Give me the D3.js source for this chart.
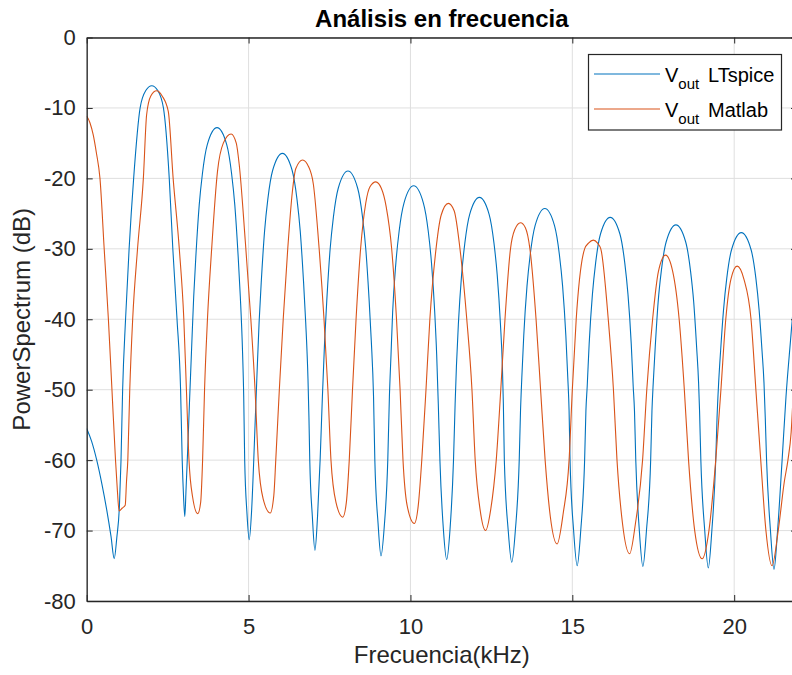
<!DOCTYPE html>
<html>
<head>
<meta charset="utf-8">
<script src="https://cdn.jsdelivr.net/npm/d3@7/dist/d3.min.js"></script>
<style>
  html, body { margin: 0; padding: 0; background: #ffffff; }
  svg { display: block; }
  text { font-family: "Liberation Sans", Arial, Helvetica, sans-serif; }
</style>
</head>
<body>
<svg id="chart" width="792" height="675"></svg>
<script>
// Axis ticks
const xTicks = [0, 5, 10, 15, 20];
const yTicks = [-80, -70, -60, -50, -40, -30, -20, -10, 0];

// Power spectrum from the LTspice simulation: [frequency kHz, dB]
const ltspice = [
  [0,-55.5],[0.15,-57.3],[0.31,-60],[0.47,-63.4],[0.62,-67.1],[0.75,-70.8],[0.85,-74.0],[0.93,-71.0],
  [1.01,-66.6],[1.06,-60],[1.11,-50],[1.2,-40],[1.31,-30],[1.45,-20],[1.65,-10],[1.83,-7.5],[2.01,-6.85],
  [2.19,-7.5],[2.37,-10],[2.55,-20],[2.66,-30],[2.79,-40],[2.9,-50],[2.95,-60],[2.99,-65],[3.03,-68],
  [3.07,-64],[3.12,-58.5],[3.175,-51.8],[3.235,-44.8],[3.305,-36.8],[3.375,-30.8],[3.475,-23.8],[3.575,-19.3],
  [3.725,-15.2],[4.025,-12.8],[4.325,-15.2],[4.475,-19.3],[4.575,-23.8],[4.675,-30.8],[4.745,-36.8],[4.815,-44.8],
  [4.85,-51],[4.88,-60],[4.95,-67.5],[5.02,-71.3],
  [5.09,-67.5],[5.16,-60],[5.2,-55],[5.255,-48.45],[5.325,-40.45],[5.395,-34.45],[5.495,-27.45],[5.595,-22.95],
  [5.745,-18.85],[6.045,-16.45],[6.345,-18.85],[6.495,-22.95],[6.595,-27.45],[6.695,-34.45],[6.765,-40.45],
  [6.835,-48.45],[6.865,-54],[6.89,-60],[6.97,-68],[7.05,-72.8],
  [7.13,-68],[7.21,-60],[7.28,-51],[7.35,-43],[7.42,-37],[7.52,-30],[7.62,-25.5],[7.77,-21.4],[8.07,-18.96],
  [8.37,-21.4],[8.52,-25.5],[8.62,-30],[8.72,-37],[8.79,-43],[8.86,-51],[8.9,-60],[9.0,-69],[9.09,-73.6],
  [9.19,-69.5],[9.3,-60],[9.35,-51],[9.4,-45],[9.45,-39],[9.55,-32],[9.65,-27.5],[9.8,-23.5],[10.1,-21.05],
  [10.4,-23.5],[10.55,-27.5],[10.65,-32],[10.75,-39],[10.81,-45],[10.86,-52],[10.91,-60],[11.02,-70],[11.12,-74.1],
  [11.22,-70],[11.33,-60],[11.38,-52],[11.42,-46.7],[11.48,-40.7],[11.58,-33.7],[11.68,-29.2],[11.83,-25.1],
  [12.13,-22.7],[12.43,-25.1],[12.58,-29.2],[12.68,-33.7],[12.78,-40.7],[12.84,-46.7],[12.87,-52],[12.9,-60],
  [13.02,-70],[13.13,-74.5],
  [13.24,-70],[13.36,-60],[13.4,-53],[13.44,-48.3],[13.5,-42.3],[13.6,-35.3],[13.7,-30.8],[13.85,-26.7],
  [14.15,-24.27],[14.45,-26.7],[14.6,-30.8],[14.7,-35.3],[14.8,-42.3],[14.86,-48.3],[14.9,-53],[14.93,-60],
  [15.04,-70],[15.15,-75.0],
  [15.26,-70],[15.38,-60],[15.42,-53],[15.46,-49.5],[15.52,-43.5],[15.62,-36.5],[15.72,-32],[15.87,-27.9],
  [16.17,-25.54],[16.47,-27.9],[16.62,-32],[16.72,-36.5],[16.82,-43.5],[16.88,-49.5],[16.92,-53],[16.96,-60],
  [17.07,-70],[17.18,-75.1],
  [17.29,-70],[17.42,-60],[17.46,-53],[17.5,-49],[17.56,-44],[17.65,-37.6],[17.75,-33.1],[17.9,-29],
  [18.2,-26.6],[18.5,-29],[18.65,-33.1],[18.75,-37.6],[18.84,-44],[18.9,-49],[18.93,-53],[18.97,-60],
  [19.09,-70],[19.2,-75.3],
  [19.31,-70],[19.43,-60],[19.47,-54],[19.52,-49],[19.58,-44.5],[19.67,-38.7],[19.77,-34.2],[19.92,-30.1],
  [20.22,-27.7],[20.52,-30.1],[20.67,-34.2],[20.77,-38.7],[20.86,-44.5],[20.92,-49],[20.96,-54],[21.0,-60],
  [21.12,-70],[21.23,-75.5],
  [21.34,-70],[21.48,-60],[21.6,-51],[21.74,-43],[21.85,-37],[21.94,-33]
];

// Power spectrum computed in Matlab: [frequency kHz, dB]
const matlab = [
  [0,-11.15],[0.1,-12.1],[0.2,-13.8],[0.3,-16.4],[0.41,-20],[0.54,-30],[0.67,-40],[0.78,-50],[0.89,-60],
  [0.95,-64.5],[1.0,-67.2],[1.1,-66.8],[1.19,-66.4],[1.23,-63],[1.27,-60],[1.33,-50],[1.42,-40],[1.57,-30],
  [1.75,-20],[1.85,-11],[1.98,-8.3],[2.16,-7.56],[2.33,-8.3],[2.52,-10.5],[2.67,-20],[2.86,-30],[3.0,-40],
  [3.08,-50],[3.16,-60],[3.27,-65.2],[3.43,-67.6],[3.52,-66],[3.58,-60],
  [3.64,-50],[3.73,-40],[3.86,-30],[4.04,-19],[4.22,-15],[4.46,-13.7],[4.62,-15],[4.71,-18],[4.9,-29],
  [5.07,-40],[5.2,-50],[5.3,-60],[5.45,-65.5],[5.67,-67.5],[5.78,-65],[5.84,-60],
  [5.95,-50],[6.07,-40],[6.21,-30],[6.35,-22],[6.46,-18.6],[6.67,-17.4],[6.85,-18.3],[7.0,-20.8],[7.18,-30],
  [7.33,-40],[7.45,-50],[7.545,-60],[7.7,-66],[7.91,-68.1],[8.02,-66],[8.11,-60],
  [8.21,-50],[8.32,-40],[8.46,-30],[8.62,-23.5],[8.75,-21.2],[8.93,-20.5],[9.1,-21.4],[9.25,-24],[9.42,-30],
  [9.57,-40],[9.68,-50],[9.77,-60],[9.9,-66.5],[10.12,-69],[10.24,-66.5],
  [10.35,-60],[10.48,-50],[10.6,-40],[10.79,-30],[10.95,-25.2],[11.17,-23.55],[11.35,-24.6],[11.53,-30],
  [11.74,-40],[11.9,-50],[12.0,-60],[12.15,-67],[12.32,-70],[12.48,-67],
  [12.65,-60],[12.79,-50],[12.92,-40],[13.09,-30],[13.22,-27.3],[13.4,-26.3],[13.55,-27],[13.69,-30],
  [13.88,-40],[14.02,-50],[14.16,-60],[14.32,-68],[14.53,-71.9],[14.72,-67.5],
  [14.9,-60],[15.0,-50],[15.12,-40],[15.38,-30],[15.5,-29.2],[15.65,-28.77],[15.78,-29.2],[15.88,-30],
  [16.11,-40],[16.27,-50],[16.38,-60],[16.55,-69],[16.77,-73.3],[16.95,-69],
  [17.17,-60],[17.3,-50],[17.48,-40],[17.66,-33.2],[17.88,-30.9],[18.1,-33.2],[18.3,-40],[18.46,-50],
  [18.59,-60],[18.78,-70],[19.01,-74.0],[19.22,-70],
  [19.43,-60],[19.59,-50],[19.74,-40],[19.9,-34.3],[20.09,-32.46],[20.3,-34.3],[20.52,-40],[20.67,-50],
  [20.82,-60],[20.98,-70],[21.17,-75.0],[21.36,-70],[21.55,-63],[21.66,-60],[21.76,-56],[21.85,-48],[21.94,-40]
];

const seriesNames = ["LTspice", "Matlab"];
const seriesColors = ["#0072BD", "#D95319"];

const W = 792, H = 675;
const plot = { left: 86.7, right: 797, top: 37.5, bottom: 601 };
const ink = "#262626";

const svg = d3.select("#chart");

const x = d3.scaleLinear().domain([0, 21.94]).range([plot.left, plot.right]);
const y = d3.scaleLinear().domain([-80, 0]).range([plot.bottom, plot.top]);

svg.append("rect").attr("width", W).attr("height", H).attr("fill", "#ffffff");

// grid
const grid = svg.append("g").attr("stroke", "#dfdfdf").attr("stroke-width", 1);
grid.selectAll("line.gx").data(xTicks).join("line")
  .attr("x1", d => x(d)).attr("x2", d => x(d))
  .attr("y1", plot.top).attr("y2", plot.bottom);
grid.selectAll("line.gy").data(yTicks).join("line")
  .attr("x1", plot.left).attr("x2", plot.right)
  .attr("y1", d => y(d)).attr("y2", d => y(d));

// traces
svg.append("clipPath").attr("id", "plotClip").append("rect")
  .attr("x", plot.left).attr("y", plot.top)
  .attr("width", plot.right - plot.left).attr("height", plot.bottom - plot.top);

const line = d3.line().x(d => x(d[0])).y(d => y(d[1])).curve(d3.curveMonotoneX);
const traces = svg.append("g").attr("clip-path", "url(#plotClip)");
[ltspice, matlab].forEach((s, i) => {
  traces.append("path").datum(s)
    .attr("fill", "none").attr("stroke", seriesColors[i])
    .attr("stroke-width", 1.1).attr("stroke-linejoin", "round")
    .attr("d", line);
});

// axes (ticks point inward on all four sides); plain hyphen for negatives
const plainNum = d => String(d);
function styleAxis(g) {
  g.select(".domain").attr("stroke", ink).attr("stroke-width", 1.3);
  g.selectAll(".tick line").attr("stroke", ink).attr("stroke-width", 1);
  g.selectAll(".tick text").attr("fill", ink)
    .style("font-family", '"Liberation Sans", Arial, sans-serif').style("font-size", "22px");
}
svg.append("g").attr("transform", `translate(0,${plot.bottom})`)
  .call(d3.axisBottom(x).tickValues(xTicks).tickFormat(plainNum)
    .tickSizeInner(-6).tickSizeOuter(0).tickPadding(17))
  .call(styleAxis);
svg.append("g").attr("transform", `translate(0,${plot.top})`)
  .call(d3.axisTop(x).tickValues(xTicks).tickSizeInner(-6).tickSizeOuter(0).tickFormat(""))
  .call(styleAxis);
svg.append("g").attr("transform", `translate(${plot.left},0)`)
  .call(d3.axisLeft(y).tickValues(yTicks).tickFormat(plainNum)
    .tickSizeInner(-6).tickSizeOuter(0).tickPadding(11))
  .call(styleAxis);
svg.append("g").attr("transform", `translate(${plot.right},0)`)
  .call(d3.axisRight(y).tickValues(yTicks).tickSizeInner(-6).tickSizeOuter(0).tickFormat(""))
  .call(styleAxis);

// title and axis labels
const cx = (plot.left + plot.right) / 2;
svg.append("text").attr("x", cx).attr("y", 27).attr("text-anchor", "middle")
  .attr("fill", "#000").style("font-size", "24px").style("font-weight", "bold")
  .text("Análisis en frecuencia");
svg.append("text").attr("x", cx).attr("y", 663).attr("text-anchor", "middle")
  .attr("fill", ink).style("font-size", "24px").text("Frecuencia(kHz)");
svg.append("text").attr("transform", `translate(30,${(plot.top + plot.bottom) / 2}) rotate(-90)`)
  .attr("text-anchor", "middle").attr("fill", ink).style("font-size", "24px")
  .text("PowerSpectrum (dB)");

// legend
const lg = svg.append("g");
lg.append("rect").attr("x", 588.5).attr("y", 54.5).attr("width", 193).attr("height", 75.5)
  .attr("fill", "#ffffff").attr("stroke", ink).attr("stroke-width", 1.2);
seriesNames.forEach((name, i) => {
  const yy = 74 + i * 35;
  lg.append("line").attr("x1", 594).attr("x2", 660).attr("y1", yy).attr("y2", yy)
    .attr("stroke", seriesColors[i]).attr("stroke-width", 1.1);
  const t = lg.append("text").attr("x", 665).attr("y", yy + 8).attr("fill", "#000")
    .style("font-size", "20px");
  t.append("tspan").text("V");
  t.append("tspan").attr("dy", 7).style("font-size", "15px").text("out");
  t.append("tspan").attr("x", 708).attr("dy", -7).text(name);
});
</script>
</body>
</html>
